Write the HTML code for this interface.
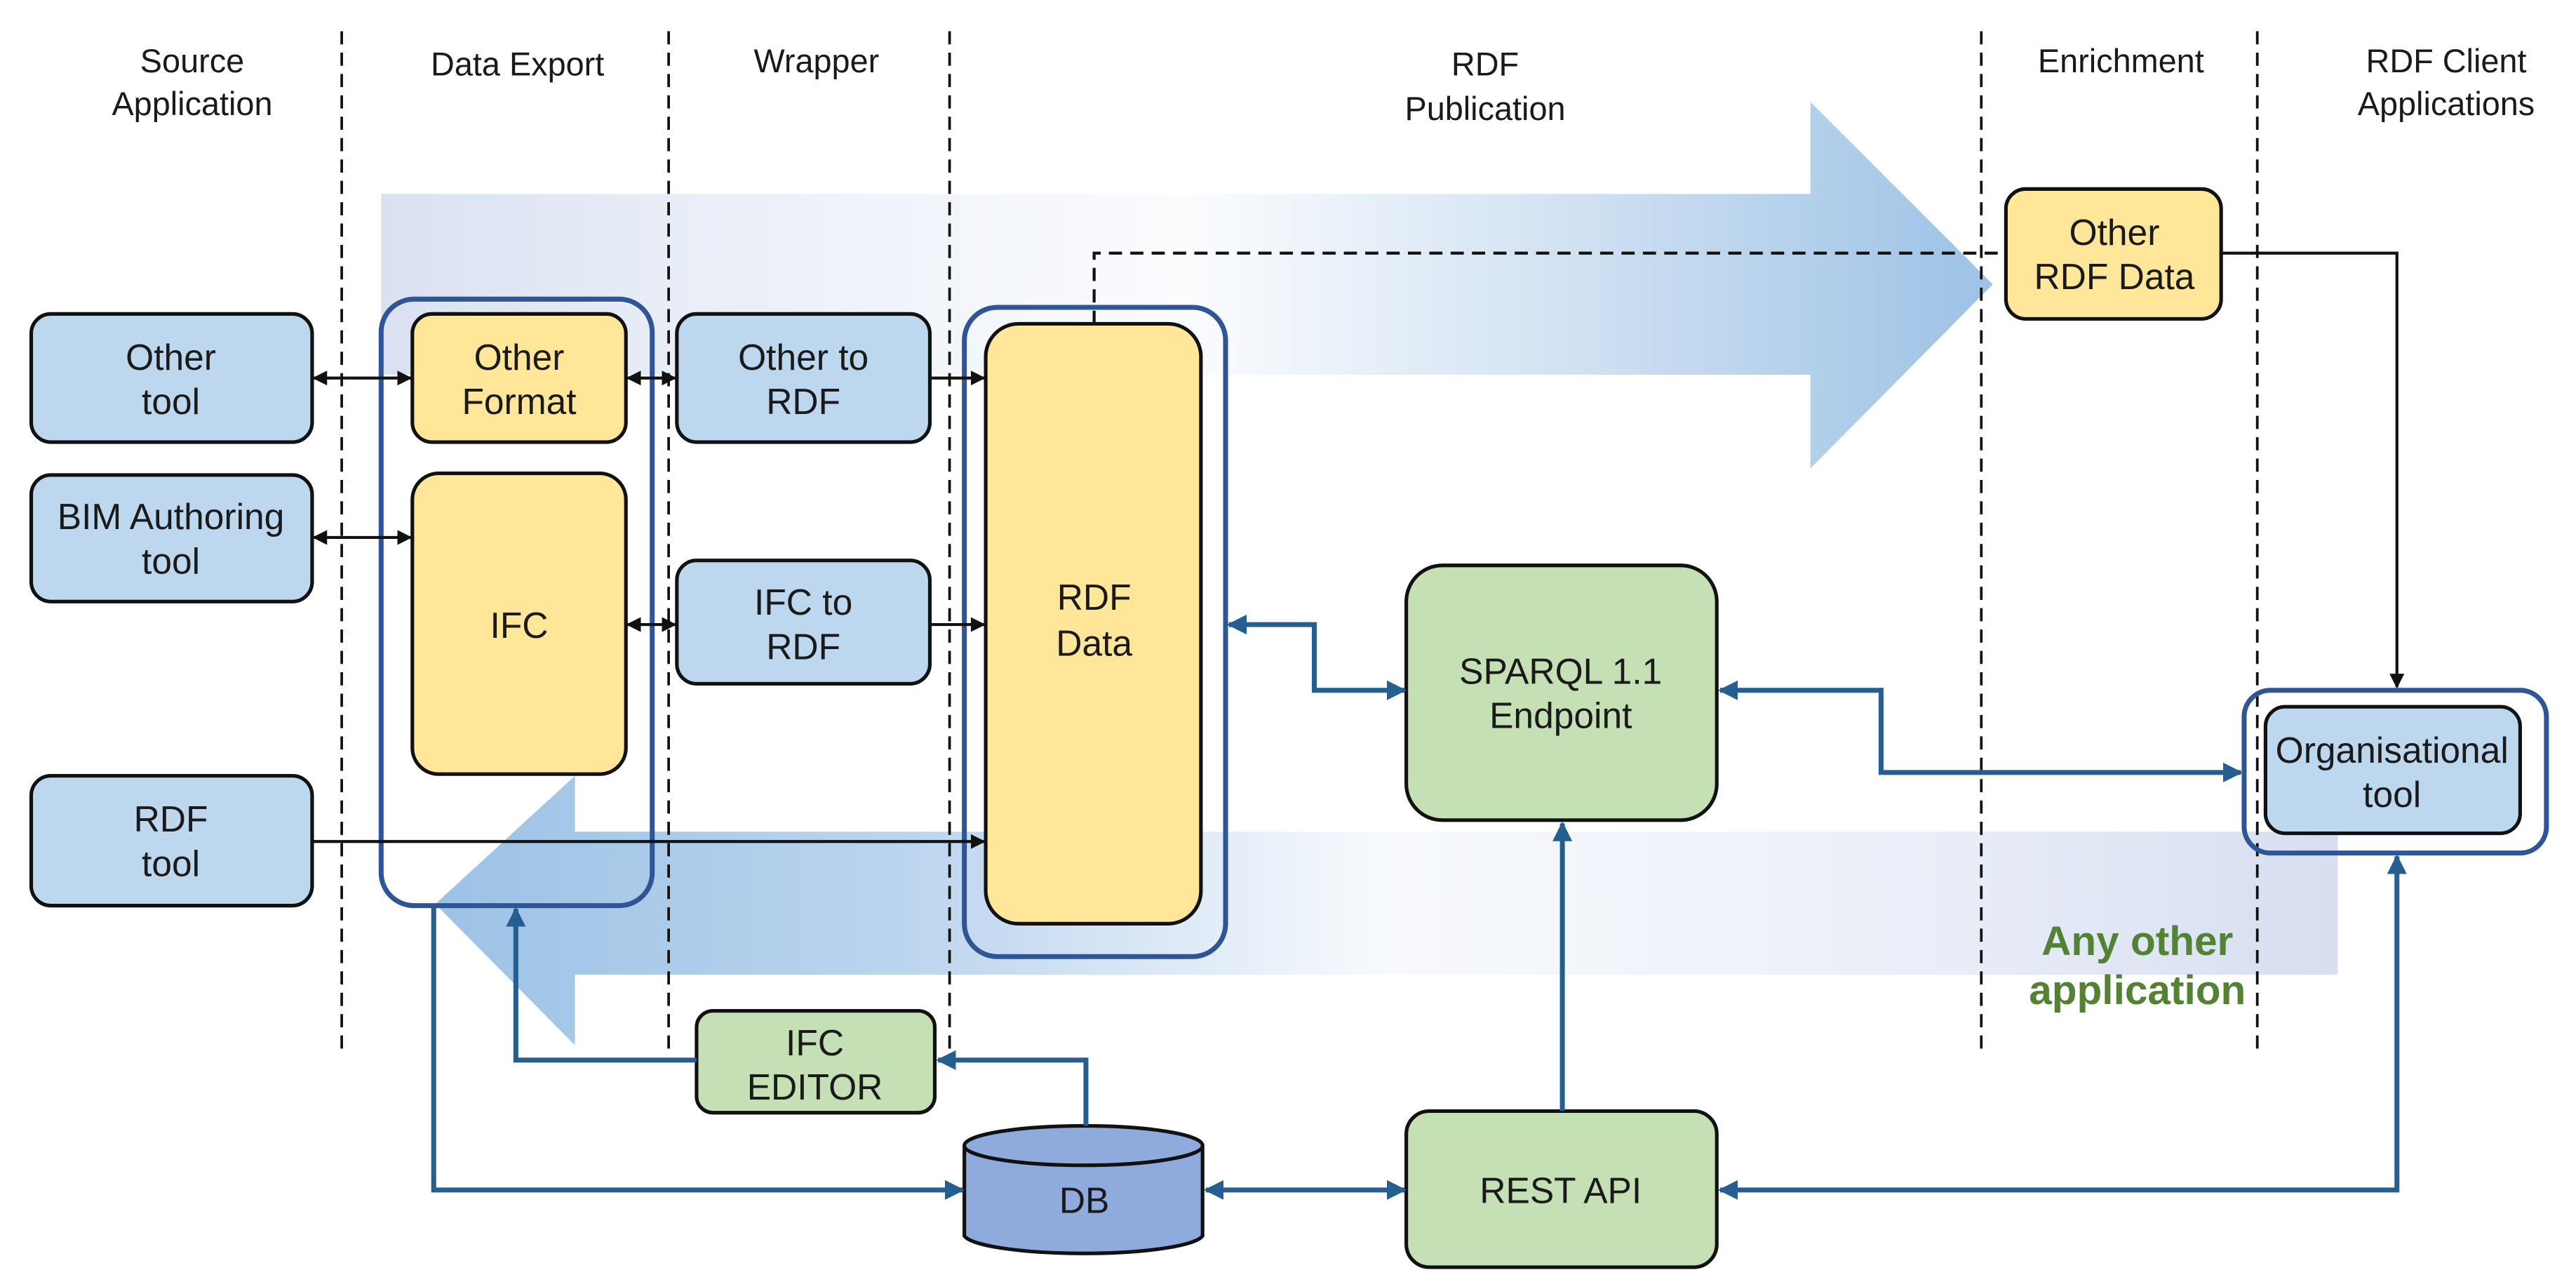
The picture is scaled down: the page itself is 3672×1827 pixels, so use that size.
<!DOCTYPE html>
<html><head><meta charset="utf-8"><style>
html,body{margin:0;padding:0;background:#fff;}
svg{display:block;}
text{font-family:"Liberation Sans",sans-serif;fill:#1a1a1a;}
</style></head><body>
<svg width="3672" height="1827" viewBox="0 0 1568 780" preserveAspectRatio="none" xmlns="http://www.w3.org/2000/svg">
<defs>
<linearGradient id="gR" x1="232" y1="0" x2="1213" y2="0" gradientUnits="userSpaceOnUse">
<stop offset="0" stop-color="#d9e1f1"/><stop offset="0.15" stop-color="#e6ecf6"/><stop offset="0.5" stop-color="#fbfcfe"/><stop offset="0.75" stop-color="#cfe0f2"/><stop offset="1" stop-color="#9cc2e5"/>
</linearGradient>
<linearGradient id="gL" x1="265" y1="0" x2="1423" y2="0" gradientUnits="userSpaceOnUse">
<stop offset="0" stop-color="#9cc2e5"/><stop offset="0.25" stop-color="#bcd5ee"/><stop offset="0.5" stop-color="#f8fafd"/><stop offset="0.8" stop-color="#e8edf7"/><stop offset="1" stop-color="#d6def0"/>
</linearGradient>
<marker id="ak" viewBox="0 0 10 10" refX="9" refY="5" markerWidth="5" markerHeight="5" orient="auto-start-reverse"><path d="M0,0 L10,5 L0,10 z" fill="#111"/></marker>
<marker id="ab" viewBox="0 0 10 10" refX="9" refY="5" markerWidth="4" markerHeight="4" orient="auto-start-reverse"><path d="M0,0 L10,5 L0,10 z" fill="#255e91"/></marker>
</defs>

<polygon points="232,118 1102,118 1102,62 1213,173 1102,285 1102,228 232,228" fill="url(#gR)"/>
<polygon points="1423,506 350,506 350,472 265,550 350,636 350,593 1423,593" fill="url(#gL)"/>

<g stroke="#111" stroke-width="1.6" stroke-dasharray="8,5">
<line x1="208" y1="19" x2="208" y2="642"/>
<line x1="407" y1="19" x2="407" y2="642"/>
<line x1="578" y1="19" x2="578" y2="642"/>
<line x1="1206" y1="19" x2="1206" y2="642"/>
<line x1="1374" y1="19" x2="1374" y2="642"/>
</g>

<g font-size="20" text-anchor="middle">
<text x="117" y="44">Source</text><text x="117" y="70">Application</text>
<text x="315" y="46">Data Export</text>
<text x="497" y="44">Wrapper</text>
<text x="904" y="46">RDF</text><text x="904" y="73">Publication</text>
<text x="1291" y="44">Enrichment</text>
<text x="1489" y="44">RDF Client</text><text x="1489" y="70">Applications</text>
</g>

<rect x="232" y="182" width="165" height="369" rx="20" fill="none" stroke="#2f5597" stroke-width="3"/>
<rect x="587" y="187" width="159" height="395" rx="20" fill="none" stroke="#2f5597" stroke-width="3"/>
<rect x="1366" y="420" width="184" height="99" rx="16" fill="none" stroke="#2f5597" stroke-width="3"/>

<g stroke="#111" stroke-width="2.2">
<rect x="19" y="191" width="171" height="78" rx="12" fill="#bdd7ee"/>
<rect x="19" y="289" width="171" height="77" rx="12" fill="#bdd7ee"/>
<rect x="19" y="472" width="171" height="79" rx="12" fill="#bdd7ee"/>
<rect x="251" y="191" width="130" height="78" rx="12" fill="#ffe699"/>
<rect x="251" y="288" width="130" height="183" rx="16" fill="#ffe699"/>
<rect x="412" y="191" width="154" height="78" rx="12" fill="#bdd7ee"/>
<rect x="412" y="341" width="154" height="75" rx="12" fill="#bdd7ee"/>
<rect x="600" y="197" width="131" height="365" rx="20" fill="#ffe699"/>
<rect x="1221" y="115" width="131" height="79" rx="12" fill="#ffe699"/>
<rect x="856" y="344" width="189" height="155" rx="22" fill="#c5e0b4"/>
<rect x="856" y="676" width="189" height="95" rx="14" fill="#c5e0b4"/>
<rect x="424" y="615" width="145" height="62" rx="10" fill="#c5e0b4"/>
<rect x="1379" y="430" width="155" height="77" rx="12" fill="#bdd7ee"/>
<path d="M587,697 L587,752 A73,12 0 0 0 732,752 L732,697" fill="#8faadc"/>
<ellipse cx="659.5" cy="697" rx="72.5" ry="12" fill="#8faadc"/>
</g>

<g font-size="22" text-anchor="middle">
<text x="104" y="225">Other</text><text x="104" y="252">tool</text>
<text x="104" y="322">BIM Authoring</text><text x="104" y="349">tool</text>
<text x="104" y="506">RDF</text><text x="104" y="533">tool</text>
<text x="316" y="225">Other</text><text x="316" y="252">Format</text>
<text x="316" y="388">IFC</text>
<text x="489" y="225">Other to</text><text x="489" y="252">RDF</text>
<text x="489" y="374">IFC to</text><text x="489" y="401">RDF</text>
<text x="666" y="371">RDF</text><text x="666" y="399">Data</text>
<text x="1287" y="149">Other</text><text x="1287" y="176">RDF Data</text>
<text x="950" y="416">SPARQL 1.1</text><text x="950" y="443">Endpoint</text>
<text x="950" y="732">REST API</text>
<text x="496" y="642">IFC</text><text x="496" y="669">EDITOR</text>
<text x="660" y="738">DB</text>
<text x="1456" y="464">Organisational</text><text x="1456" y="491">tool</text>
</g>
<g font-size="25" font-weight="bold" text-anchor="middle">
<text x="1301" y="581" style="fill:#548235">Any other</text>
<text x="1301" y="611" style="fill:#548235">application</text>
</g>

<g stroke="#111" stroke-width="1.8" fill="none">
<line x1="191" y1="230" x2="250" y2="230" marker-start="url(#ak)" marker-end="url(#ak)"/>
<line x1="382" y1="230" x2="411" y2="230" marker-start="url(#ak)" marker-end="url(#ak)"/>
<line x1="566" y1="230" x2="599" y2="230" marker-end="url(#ak)"/>
<line x1="191" y1="327" x2="250" y2="327" marker-start="url(#ak)" marker-end="url(#ak)"/>
<line x1="382" y1="380" x2="411" y2="380" marker-start="url(#ak)" marker-end="url(#ak)"/>
<line x1="566" y1="380" x2="599" y2="380" marker-end="url(#ak)"/>
<line x1="190" y1="512" x2="599" y2="512" marker-end="url(#ak)"/>
<polyline points="666,197 666,154 1221,154" stroke-dasharray="8,5"/>
<polyline points="1352,154 1459,154 1459,418" marker-end="url(#ak)"/>
</g>

<g stroke="#255e91" stroke-width="3" fill="none">
<polyline points="748,380 800,380 800,420 855,420" marker-start="url(#ab)" marker-end="url(#ab)"/>
<polyline points="1047,420 1145,420 1145,470 1364,470" marker-start="url(#ab)" marker-end="url(#ab)"/>
<line x1="951" y1="676" x2="951" y2="501" marker-end="url(#ab)"/>
<polyline points="1047,724 1459,724 1459,521" marker-start="url(#ab)" marker-end="url(#ab)"/>
<line x1="734" y1="724" x2="855" y2="724" marker-start="url(#ab)" marker-end="url(#ab)"/>
<polyline points="264,552 264,724 586,724" marker-end="url(#ab)"/>
<polyline points="661,685 661,645 571,645" marker-end="url(#ab)"/>
<polyline points="424,645 314,645 314,553" marker-end="url(#ab)"/>
</g>
</svg>
</body></html>
